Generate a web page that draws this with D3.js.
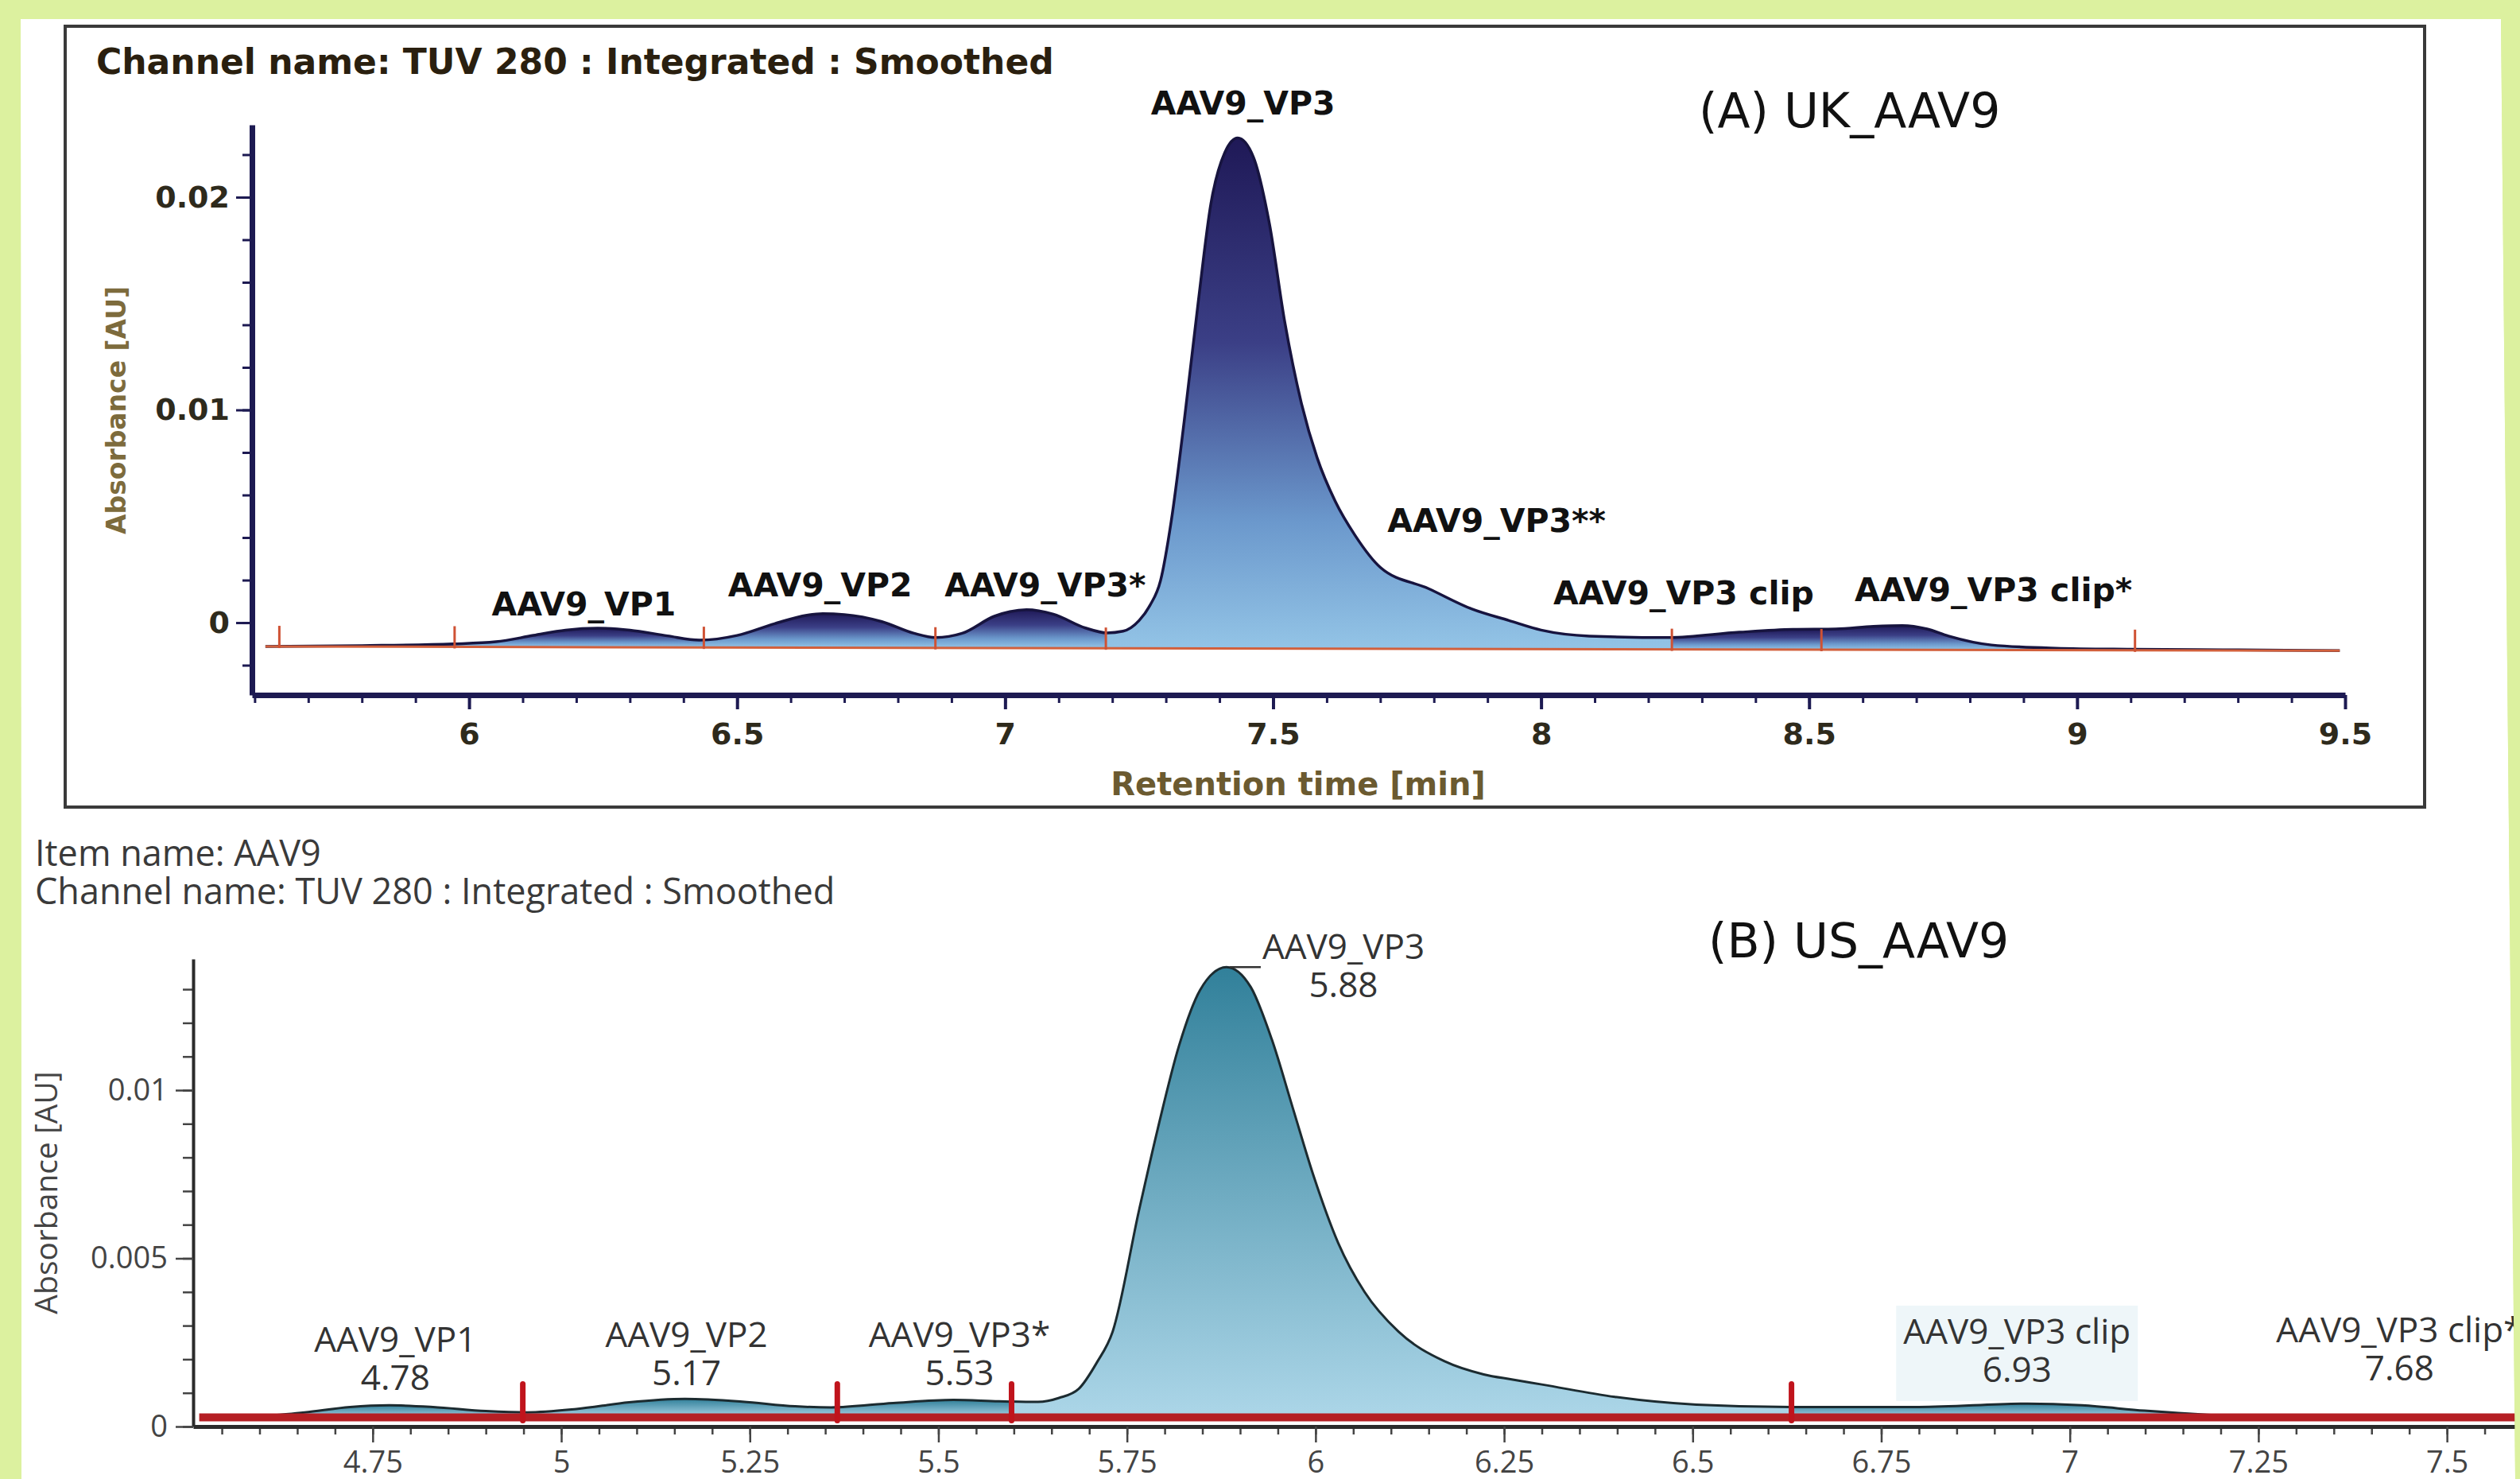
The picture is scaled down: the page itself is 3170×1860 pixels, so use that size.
<!DOCTYPE html>
<html>
<head>
<meta charset="utf-8">
<script src="https://cdn.jsdelivr.net/npm/d3@7"></script>
<style>
  html, body { margin: 0; padding: 0; background: #dcf19f; }
  svg { display: block; }
</style>
</head>
<body>
<svg id="chart" width="3170" height="1860"></svg>
<script>
const W = 3170, H = 1860;

// ---- panel A : UK_AAV9 (retention time [min], absorbance [AU]) ----
const timeA = [5.62, 5.80, 5.97, 6.05, 6.12, 6.18, 6.24, 6.30, 6.37, 6.43,
  6.50, 6.57, 6.63, 6.66, 6.70, 6.77, 6.83, 6.87, 6.92, 6.98, 7.04, 7.09, 7.15,
  7.19, 7.22, 7.25, 7.27, 7.29, 7.31, 7.334, 7.36, 7.384, 7.41, 7.434, 7.463,
  7.493, 7.522, 7.552, 7.582, 7.616, 7.653, 7.70, 7.79, 7.87, 7.94, 8.00, 8.09,
  8.24, 8.37, 8.47, 8.55, 8.62, 8.674, 8.72, 8.76, 8.84, 8.96, 9.10, 9.30, 9.49];
const absA = [-0.00112, -0.00108, -0.00100, -0.00090, -0.00060, -0.00035, -0.00026,
  -0.00035, -0.00062, -0.00082, -0.00060, -0.00005, 0.00035, 0.00042, 0.00038,
  0.00005, -0.00050, -0.00070, -0.00050, 0.00030, 0.00061, 0.00040, -0.00025,
  -0.00048, -0.00040, 0.00010, 0.00080, 0.00198, 0.00478, 0.00944, 0.0150, 0.0197,
  0.0221, 0.02278, 0.0219, 0.01877, 0.0141, 0.0104, 0.00776, 0.0057, 0.0041,
  0.0026, 0.0016, 0.00065, 0.0001, -0.00035, -0.00063, -0.00070, -0.00045,
  -0.00032, -0.00030, -0.00018, -0.00014, -0.00030, -0.00063, -0.00105, -0.00120,
  -0.00125, -0.00128, -0.00132];
const markersA = [5.646, 5.973, 6.438, 6.87, 7.188, 8.244, 8.523, 9.108];
const baselineTimeA = [5.62, 9.49];
const baselineAbsA = [-0.00112, -0.00132];
const xTicksA = [6, 6.5, 7, 7.5, 8, 8.5, 9, 9.5];
const xTickLabelsA = ["6", "6.5", "7", "7.5", "8", "8.5", "9", "9.5"];
const yTicksA = [0, 0.01, 0.02];
const yTickLabelsA = ["0", "0.01", "0.02"];
const peakNamesA = ["AAV9_VP1", "AAV9_VP2", "AAV9_VP3*", "AAV9_VP3", "AAV9_VP3**", "AAV9_VP3 clip", "AAV9_VP3 clip*"];
const peakLabelTimeA = [6.214, 6.655, 7.075, 7.444, 7.917, 8.266, 8.844];
const peakLabelAbsA = [0.00034, 0.00123, 0.00123, 0.02389, 0.00426, 0.00086, 0.00101];

// ---- panel B : US_AAV9 ----
const timeB = [4.60, 4.66, 4.72, 4.772, 4.83, 4.90, 4.955, 5.02, 5.09, 5.164, 5.24,
  5.31, 5.358, 5.44, 5.52, 5.58, 5.632, 5.66, 5.686, 5.71, 5.731, 5.766, 5.791,
  5.819, 5.847, 5.882, 5.914, 5.942, 5.97, 5.998, 6.03, 6.065, 6.11, 6.171, 6.223,
  6.26, 6.30, 6.397, 6.505, 6.631, 6.80, 6.944, 7.016, 7.099, 7.218, 7.396, 7.60];
const absB = [0.00030, 0.00042, 0.00058, 0.00063, 0.00058, 0.00046, 0.00042, 0.00052,
  0.00072, 0.00082, 0.00074, 0.00060, 0.00057, 0.00070, 0.00079, 0.00075, 0.00073,
  0.00085, 0.00112, 0.0019, 0.00282, 0.00643, 0.00887, 0.01132, 0.01298, 0.01366,
  0.01307, 0.01151, 0.00946, 0.00741, 0.00546, 0.00400, 0.00282, 0.00194, 0.00155,
  0.00140, 0.00125, 0.00088, 0.00065, 0.00058, 0.00058, 0.00068, 0.00063, 0.00047,
  0.00031, 0.00025, 0.00021];
const markersB = [4.949, 5.366, 5.597, 6.631];
const baselineAbsB = 0.00027;
const xTicksB = [4.75, 5, 5.25, 5.5, 5.75, 6, 6.25, 6.5, 6.75, 7, 7.25, 7.5];
const xTickLabelsB = ["4.75", "5", "5.25", "5.5", "5.75", "6", "6.25", "6.5", "6.75", "7", "7.25", "7.5"];
const yTicksB = [0, 0.005, 0.01];
const yTickLabelsB = ["0", "0.005", "0.01"];
const peakNamesB = ["AAV9_VP1", "AAV9_VP2", "AAV9_VP3*", "AAV9_VP3", "AAV9_VP3 clip", "AAV9_VP3 clip*"];
const peakRtB = ["4.78", "5.17", "5.53", "5.88", "6.93", "7.68"];
const peakLabelTimeB = [4.78, 5.166, 5.528, 6.037, 6.93, 7.437];
const peakLabelAbsB = [0.00222, 0.00236, 0.00236, 0.0139, 0.00246, 0.00251];

const svg = d3.select("#chart");
const defs = svg.append("defs");

svg.append("rect").attr("width", W).attr("height", H).attr("fill", "#dcf19f");
svg.append("polygon").attr("points", "26,24 3146,24 3164,1860 27,1860").attr("fill", "#fff");

const xA = d3.scaleLinear().domain([5.595, 9.5]).range([317, 2950]);
const yA = d3.scaleLinear().domain([-0.0034, 0.0234]).range([874, 157]);
const xB = d3.scaleLinear().domain([4.512, 7.6]).range([243, 3173]);
const yB = d3.scaleLinear().domain([0, 0.0139]).range([1794, 1206]);

// draws the filled peak segments (one gradient per integration segment) and the trace
function drawTrace(g, x, y, times, abs, baseAt, edges, stops, id, strokeColor, strokeW) {
  const pts = times.map((t, i) => [t, abs[i]]);
  const area = d3.area().curve(d3.curveMonotoneX)
    .x(d => x(d[0])).y0(d => y(baseAt(d[0]))).y1(d => y(d[1]));
  edges.forEach(([a, b], k) => {
    const inside = pts.filter(d => d[0] >= a && d[0] <= b);
    const top = inside.length ? d3.max(inside, d => d[1]) : baseAt(a);
    const grad = defs.append("linearGradient").attr("id", `${id}g${k}`)
      .attr("gradientUnits", "userSpaceOnUse")
      .attr("x1", 0).attr("x2", 0).attr("y1", y(top)).attr("y2", y(baseAt((a + b) / 2)));
    stops.forEach(s => grad.append("stop").attr("offset", s[0]).attr("stop-color", s[1]));
    defs.append("clipPath").attr("id", `${id}c${k}`).append("rect")
      .attr("x", x(a)).attr("width", x(b) - x(a)).attr("y", 0).attr("height", H);
    g.append("path").datum(pts).attr("d", area)
      .attr("fill", `url(#${id}g${k})`).attr("clip-path", `url(#${id}c${k})`);
  });
  g.append("path").datum(pts)
    .attr("d", d3.line().curve(d3.curveMonotoneX).x(d => x(d[0])).y(d => y(d[1])))
    .attr("fill", "none").attr("stroke", strokeColor).attr("stroke-width", strokeW)
    .attr("stroke-linejoin", "round");
}

// ================= panel A =================
const gA = svg.append("g");
gA.append("rect").attr("x", 82).attr("y", 33).attr("width", 2968).attr("height", 982)
  .attr("fill", "#fff").attr("stroke", "#3a3a3a").attr("stroke-width", 4);

gA.append("text").attr("x", 121).attr("y", 93)
  .attr("font-family", "DejaVu Sans").attr("font-weight", "bold").attr("font-size", 44)
  .attr("fill", "#2a1f0f").text("Channel name: TUV 280 : Integrated : Smoothed");
gA.append("text").attr("x", 2137).attr("y", 160)
  .attr("font-family", "DejaVu Sans").attr("font-size", 60).attr("fill", "#111")
  .text("(A) UK_AAV9");

const baseA = d3.scaleLinear().domain(baselineTimeA).range(baselineAbsA);
const edgesA = d3.pairs(markersA);
drawTrace(gA, xA, yA, timeA, absA, baseA, edgesA,
  [[0, "#1f1957"], [0.4, "#3b3f86"], [0.75, "#6b98cc"], [1, "#93c4e6"]], "a", "#17143f", 3.5);

gA.append("line")
  .attr("x1", xA(baselineTimeA[0])).attr("y1", yA(baselineAbsA[0]))
  .attr("x2", xA(baselineTimeA[1])).attr("y2", yA(baselineAbsA[1]))
  .attr("stroke", "#d2603c").attr("stroke-width", 3);
gA.selectAll(".mkA").data(markersA).join("line")
  .attr("x1", d => xA(d)).attr("x2", d => xA(d))
  .attr("y1", d => yA(baseA(d)) + 2).attr("y2", d => yA(baseA(d)) - 26)
  .attr("stroke", "#cf5234").attr("stroke-width", 3);

// axes A
const axisColorA = "#1d1a52";
const minorYA = d3.range(-1, 12).map(d => d * 0.002);
const minorXA = d3.range(56, 96).map(d => d / 10);
gA.append("g").attr("transform", `translate(${xA(5.595)},0)`)
  .call(d3.axisLeft(yA).tickValues(minorYA).tickSize(12).tickSizeOuter(0).tickFormat(""))
  .call(s => { s.select(".domain").remove(); s.selectAll("line").attr("stroke", axisColorA).attr("stroke-width", 3); });
gA.append("g").attr("transform", `translate(0,${yA(-0.0034)})`)
  .call(d3.axisBottom(xA).tickValues(minorXA).tickSize(10).tickSizeOuter(0).tickFormat(""))
  .call(s => { s.select(".domain").remove(); s.selectAll("line").attr("stroke", axisColorA).attr("stroke-width", 3); });
gA.append("g").attr("transform", `translate(${xA(5.595)},0)`)
  .call(d3.axisLeft(yA).tickValues(yTicksA).tickSize(20).tickSizeOuter(0).tickPadding(8)
    .tickFormat((d, i) => yTickLabelsA[i]))
  .call(s => {
    s.select(".domain").attr("stroke", axisColorA).attr("stroke-width", 7);
    s.selectAll("line").attr("stroke", axisColorA).attr("stroke-width", 3);
    s.selectAll("text").attr("font-family", "DejaVu Sans").attr("font-weight", "bold")
      .attr("font-size", 38).attr("fill", "#2e2a1c");
  });
gA.append("g").attr("transform", `translate(0,${yA(-0.0034)})`)
  .call(d3.axisBottom(xA).tickValues(xTicksA).tickSize(18).tickSizeOuter(0).tickPadding(17)
    .tickFormat((d, i) => xTickLabelsA[i]))
  .call(s => {
    s.select(".domain").attr("stroke", axisColorA).attr("stroke-width", 7);
    s.selectAll("line").attr("stroke", axisColorA).attr("stroke-width", 4);
    s.selectAll("text").attr("font-family", "DejaVu Sans").attr("font-weight", "bold")
      .attr("font-size", 38).attr("fill", "#2e2a1c");
  });

gA.append("text").attr("transform", "translate(158,516) rotate(-90)")
  .attr("text-anchor", "middle").attr("font-family", "DejaVu Sans").attr("font-weight", "bold")
  .attr("font-size", 33).attr("fill", "#7d6b3c").text("Absorbance [AU]");
gA.append("text").attr("x", 1633).attr("y", 1000)
  .attr("text-anchor", "middle").attr("font-family", "DejaVu Sans").attr("font-weight", "bold")
  .attr("font-size", 40).attr("fill", "#6b5a30").text("Retention time [min]");

gA.selectAll(".lblA").data(peakNamesA).join("text")
  .attr("x", (d, i) => xA(peakLabelTimeA[i])).attr("y", (d, i) => yA(peakLabelAbsA[i]))
  .attr("text-anchor", "middle").attr("font-family", "DejaVu Sans").attr("font-weight", "bold")
  .attr("font-size", 41).attr("fill", "#111").text(d => d);

// ================= panel B =================
const gB = svg.append("g");
const fB = { family: "Open Sans", color: "#3a3a3a" };
const head = gB.append("text").attr("font-family", fB.family).attr("font-size", 45).attr("fill", fB.color);
head.append("tspan").attr("x", 44).attr("y", 1089).text("Item name: AAV9");
head.append("tspan").attr("x", 44).attr("y", 1137).text("Channel name: TUV 280 : Integrated : Smoothed");
gB.append("text").attr("x", 2149).attr("y", 1204)
  .attr("font-family", "DejaVu Sans").attr("font-size", 60).attr("fill", "#111")
  .text("(B) US_AAV9");

// faint highlight behind the selected clip label
const clipIdx = 4;
gB.append("rect")
  .attr("x", xB(peakLabelTimeB[clipIdx]) - 152).attr("width", 304)
  .attr("y", yB(peakLabelAbsB[clipIdx]) - 48).attr("height", 120)
  .attr("fill", "#eef6f9");

const baseB = () => baselineAbsB;
const edgesB = d3.pairs([timeB[0], ...markersB, timeB[timeB.length - 1]]);
drawTrace(gB, xB, yB, timeB, absB, baseB, edgesB,
  [[0, "#31809a"], [1, "#acd6e8"]], "b", "#1c2b30", 3);

gB.append("line")
  .attr("x1", xB(4.52)).attr("x2", xB(7.6))
  .attr("y1", yB(baselineAbsB)).attr("y2", yB(baselineAbsB))
  .attr("stroke", "#b51f24").attr("stroke-width", 10);
gB.selectAll(".mkB").data(markersB).join("line")
  .attr("x1", d => xB(d)).attr("x2", d => xB(d))
  .attr("y1", yB(baselineAbsB) + 4).attr("y2", yB(baselineAbsB) - 42)
  .attr("stroke", "#c0141c").attr("stroke-width", 7).attr("stroke-linecap", "round");

// axes B
const axisColorB = "#2b2b2b";
const minorYB = d3.range(0, 14).map(d => d * 0.001);
const minorXB = d3.range(91, 153).map(d => d / 20);
gB.append("g").attr("transform", `translate(${xB(4.512)},0)`)
  .call(d3.axisLeft(yB).tickValues(minorYB).tickSize(13).tickSizeOuter(0).tickFormat(""))
  .call(s => { s.select(".domain").remove(); s.selectAll("line").attr("stroke", "#444").attr("stroke-width", 2.5); });
gB.append("g").attr("transform", `translate(0,${yB(0)})`)
  .call(d3.axisBottom(xB).tickValues(minorXB).tickSize(10).tickSizeOuter(0).tickFormat(""))
  .call(s => { s.select(".domain").remove(); s.selectAll("line").attr("stroke", "#444").attr("stroke-width", 2.5); });
gB.append("g").attr("transform", `translate(${xB(4.512)},0)`)
  .call(d3.axisLeft(yB).tickValues(yTicksB).tickSize(22).tickSizeOuter(0).tickPadding(10)
    .tickFormat((d, i) => yTickLabelsB[i]))
  .call(s => {
    s.select(".domain").attr("stroke", axisColorB).attr("stroke-width", 4);
    s.selectAll("line").attr("stroke", "#444").attr("stroke-width", 2.5);
    s.selectAll("text").attr("font-family", fB.family).attr("font-size", 38).attr("fill", "#444");
  });
gB.append("g").attr("transform", `translate(0,${yB(0)})`)
  .call(d3.axisBottom(xB).tickValues(xTicksB).tickSize(20).tickSizeOuter(0).tickPadding(11)
    .tickFormat((d, i) => xTickLabelsB[i]))
  .call(s => {
    s.select(".domain").attr("stroke", axisColorB).attr("stroke-width", 5);
    s.selectAll("line").attr("stroke", "#444").attr("stroke-width", 2.5);
    s.selectAll("text").attr("font-family", fB.family).attr("font-size", 38).attr("fill", "#444");
  });

gB.append("text").attr("transform", "translate(72,1500) rotate(-90)")
  .attr("text-anchor", "middle").attr("font-family", fB.family)
  .attr("font-size", 39).attr("fill", "#444").text("Absorbance [AU]");

// leader from the main peak apex to its label
const vp3 = d3.maxIndex(absB);
gB.append("line")
  .attr("x1", xB(timeB[vp3]) + 4).attr("x2", xB(peakLabelTimeB[3]) - 104)
  .attr("y1", yB(absB[vp3])).attr("y2", yB(absB[vp3]))
  .attr("stroke", "#333").attr("stroke-width", 2.5);

// two-line peak labels: name and retention time
gB.selectAll(".lblB").data(peakNamesB).join("text")
  .attr("text-anchor", "middle").attr("font-family", fB.family)
  .attr("font-size", 44).attr("fill", "#333")
  .each(function (d, i) {
    const x = xB(peakLabelTimeB[i]), y = yB(peakLabelAbsB[i]);
    const t = d3.select(this);
    t.append("tspan").attr("x", x).attr("y", y).text(d);
    t.append("tspan").attr("x", x).attr("y", y + 48).text(peakRtB[i]);
  });

// green page border on top
svg.append("path")
  .attr("d", `M0,0H${W}V${H}H0Z M26,24 L3146,24 L3164,${H} L27,${H}Z`)
  .attr("fill", "#dcf19f").attr("fill-rule", "evenodd");
</script>
</body>
</html>
